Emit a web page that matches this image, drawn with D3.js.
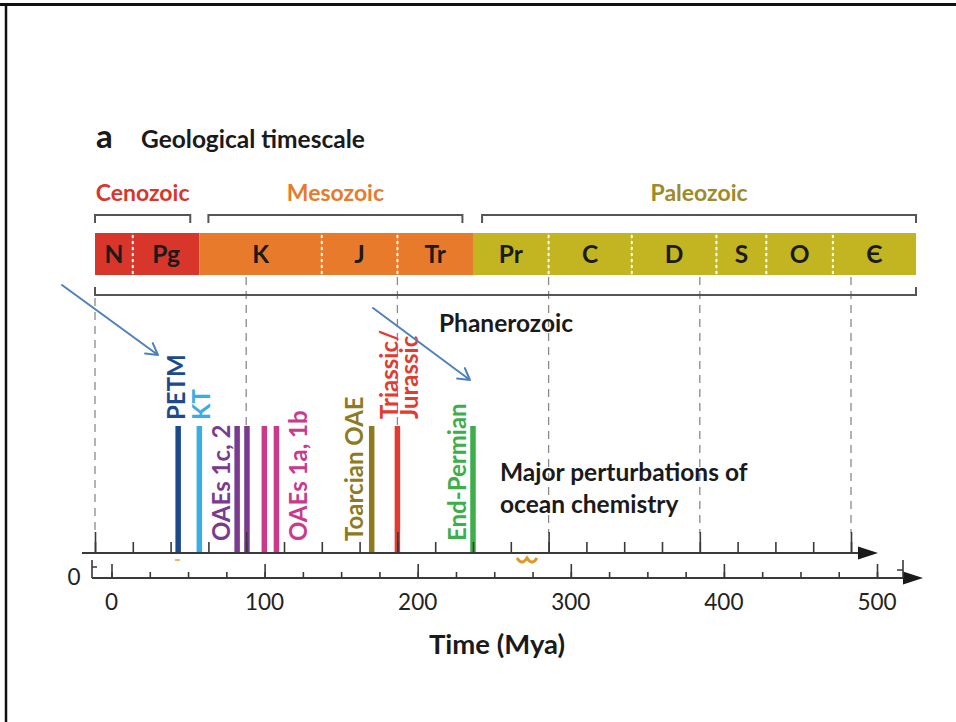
<!DOCTYPE html>
<html>
<head>
<meta charset="utf-8">
<script src="https://cdn.jsdelivr.net/npm/d3@7"></script>
<style>
  html, body { margin: 0; padding: 0; background: #fff; }
  svg { display: block; font-family: Lato, "Open Sans", sans-serif; }
</style>
</head>
<body>
<svg id="chart" width="956" height="722"></svg>
<script>
// Geological periods (Mya boundaries) and their eras
const periods      = ["N", "Pg", "K", "J", "Tr", "Pr", "C", "D", "S", "O", "Є"];
const periodStart  = [0, 25, 69, 150, 200, 250, 300, 355, 411, 444, 488];
const periodEnd    = [25, 69, 150, 200, 250, 300, 355, 411, 444, 488, 543];
const periodEra    = ["Cenozoic", "Cenozoic", "Mesozoic", "Mesozoic", "Mesozoic",
                      "Paleozoic", "Paleozoic", "Paleozoic", "Paleozoic", "Paleozoic", "Paleozoic"];

const eras         = ["Cenozoic", "Mesozoic", "Paleozoic"];
const eraSpanStart = [0, 75, 256];
const eraSpanEnd   = [63, 243, 543];
const eraColors    = ["#d8362b", "#e87a2c", "#c3b521"];
const eraTextColor = ["#d8362b", "#e87a2c", "#9d8a2a"];

// Major perturbations of ocean chemistry (ages in Mya)
const eventNames  = ["PETM", "KT", "OAEs 1c, 2", "OAEs 1a, 1b", "Toarcian OAE", "Triassic/|Jurassic", "End-Permian"];
const eventAges   = [[55], [69], [94, 100.5], [112, 120], [183], [200], [250]];
const eventColors = ["#1c4a8c", "#3aaee2", "#7a3b8f", "#c93a8d", "#8e7a1f", "#e23b30", "#3dae4a"];

// Tick values
const minorTicks = d3.range(0, 501, 25);
const majorTicks = d3.range(0, 501, 100);
const tickLabels = ["0", "100", "200", "300", "400", "500"];

const svg = d3.select("#chart");

// Figure frame
svg.append("line").attr("x1", 0).attr("x2", 956).attr("y1", 4.5).attr("y2", 4.5)
  .attr("stroke", "#111").attr("stroke-width", 3);
svg.append("line").attr("x1", 6).attr("x2", 6).attr("y1", 3).attr("y2", 722)
  .attr("stroke", "#111").attr("stroke-width", 2.5);

const xTop = d3.scaleLinear().domain([0, 500]).range([95, 851]);
const xLow = d3.scaleLinear().domain([0, 500]).range([111.5, 877]);

const barTop = 233, barBottom = 275;
const axisY = 553, lowAxisY = 578;

// Title
svg.append("text").attr("x", 96).attr("y", 148).attr("font-size", 33).attr("font-weight", 700)
  .attr("fill", "#1a1a1a").text("a");
svg.append("text").attr("x", 141).attr("y", 148).attr("font-size", 24.5).attr("font-weight", 700)
  .attr("fill", "#1a1a1a").text("Geological timescale");

// Era labels and brackets
const eraG = svg.append("g");
eras.forEach((e, i) => {
  const x0 = xTop(eraSpanStart[i]), x1 = xTop(eraSpanEnd[i]);
  eraG.append("text").attr("x", (x0 + x1) / 2).attr("y", 201)
    .attr("text-anchor", "middle").attr("font-size", 23).attr("font-weight", 700)
    .attr("fill", eraTextColor[i]).text(e);
  eraG.append("path")
    .attr("d", `M${x0},223 V215 H${x1} V223`)
    .attr("fill", "none").attr("stroke", "#555").attr("stroke-width", 2);
});

// Dashed guide lines at every 100 Mya
svg.append("g").selectAll("line").data(majorTicks).join("line")
  .attr("x1", d => xTop(d)).attr("x2", d => xTop(d))
  .attr("y1", d => d === 0 ? 298 : barBottom + 2).attr("y2", axisY - 20)
  .attr("stroke", "#8a8a8a").attr("stroke-width", 1.3).attr("stroke-dasharray", "8,6");

// Period bar
const bar = svg.append("g");
periods.forEach((p, i) => {
  const x0 = xTop(periodStart[i]), x1 = xTop(periodEnd[i]);
  bar.append("rect").attr("x", x0).attr("y", barTop).attr("width", x1 - x0).attr("height", barBottom - barTop)
    .attr("fill", eraColors[eras.indexOf(periodEra[i])]);
  bar.append("text").attr("x", (x0 + x1) / 2).attr("y", 263)
    .attr("text-anchor", "middle").attr("font-size", 24.5).attr("font-weight", 700)
    .attr("fill", "#1b1b1b").text(p);
  if (i > 0 && periodEra[i] === periodEra[i - 1]) {
    bar.append("line").attr("x1", x0).attr("x2", x0).attr("y1", barTop + 2).attr("y2", barBottom)
      .attr("stroke", "#fff").attr("stroke-width", 2).attr("stroke-dasharray", "3,3");
  }
});

// Phanerozoic bracket
svg.append("path")
  .attr("d", `M${xTop(0)},287 V295 H${xTop(543)} V287`)
  .attr("fill", "none").attr("stroke", "#555").attr("stroke-width", 2);
svg.append("text").attr("x", 506).attr("y", 332).attr("text-anchor", "middle")
  .attr("font-size", 24.5).attr("font-weight", 700).attr("fill", "#1a1a1a").text("Phanerozoic");

// Event bars
const eventTop = 426;
const evG = svg.append("g");
eventNames.forEach((name, i) => {
  eventAges[i].forEach(a => {
    evG.append("line").attr("x1", xTop(a)).attr("x2", xTop(a))
      .attr("y1", eventTop).attr("y2", axisY)
      .attr("stroke", eventColors[i]).attr("stroke-width", 5.5);
  });
});

// Event labels (rotated), offset from their bars
const labelLayout = [
  { dx: -2, bottom: 420 },
  { dx: 2.5, bottom: 420 },
  { dx: -16, bottom: 541 },
  { dx: 22, bottom: 541 },
  { dx: -17, bottom: 541 },
  { dx: -8, bottom: 419, line: 20 },
  { dx: -16, bottom: 541 }
];
eventNames.forEach((name, i) => {
  const L = labelLayout[i];
  const ages = eventAges[i];
  const xc = i === 3 ? xTop(ages[ages.length - 1]) : xTop(ages[0]);
  name.split("|").forEach((part, k) => {
    const x = xc + L.dx + k * (L.line || 0);
    svg.append("text")
      .attr("transform", `translate(${x},${L.bottom}) rotate(-90)`)
      .attr("dy", "0.36em")
      .attr("font-size", 24).attr("font-weight", 700)
      .attr("fill", eventColors[i]).text(part);
  });
});

// Caption
const cap = svg.append("text").attr("font-size", 24.5).attr("font-weight", 700).attr("fill", "#1a1a1a");
cap.append("tspan").attr("x", 500).attr("y", 481).text("Major perturbations of");
cap.append("tspan").attr("x", 500).attr("y", 513).text("ocean chemistry");

// Upper time axis
svg.append("line").attr("x1", 82).attr("x2", 866).attr("y1", axisY).attr("y2", axisY)
  .attr("stroke", "#3a3a3a").attr("stroke-width", 2);
svg.append("path").attr("d", `M858,${axisY - 6.5} L878,${axisY} L858,${axisY + 6.5} Z`).attr("fill", "#1a1a1a");
const upMinor = svg.append("g").attr("transform", `translate(0,${axisY})`)
  .call(d3.axisTop(xTop).tickValues(minorTicks).tickSize(11).tickFormat(""));
const upMajor = svg.append("g").attr("transform", `translate(0,${axisY})`)
  .call(d3.axisTop(xTop).tickValues(majorTicks).tickSize(21).tickFormat(""));
[upMinor, upMajor].forEach(g => {
  g.select(".domain").remove();
  g.selectAll(".tick line").attr("stroke", "#3a3a3a").attr("stroke-width", 1.6);
});

// Lower time axis
svg.append("line").attr("x1", 92).attr("x2", 910).attr("y1", lowAxisY).attr("y2", lowAxisY)
  .attr("stroke", "#3a3a3a").attr("stroke-width", 2);
svg.append("path").attr("d", `M903,${lowAxisY - 6.5} L923,${lowAxisY} L903,${lowAxisY + 6.5} Z`).attr("fill", "#1a1a1a");
svg.append("path").attr("d", `M92,${lowAxisY} V560 M92,567 H97 M903,${lowAxisY} V560 M903,570 H897`)
  .attr("fill", "none").attr("stroke", "#3a3a3a").attr("stroke-width", 1.6);
const lowMinor = svg.append("g").attr("transform", `translate(0,${lowAxisY})`)
  .call(d3.axisTop(xLow).tickValues(minorTicks).tickSize(6).tickFormat(""));
const lowMajor = svg.append("g").attr("transform", `translate(0,${lowAxisY})`)
  .call(d3.axisTop(xLow).tickValues(majorTicks).tickSize(14).tickFormat(""));
[lowMinor, lowMajor].forEach(g => {
  g.select(".domain").remove();
  g.selectAll(".tick line").attr("stroke", "#3a3a3a").attr("stroke-width", 1.6);
});
svg.append("g").selectAll("text").data(majorTicks).join("text")
  .attr("x", d => xLow(d)).attr("y", 610).attr("text-anchor", "middle")
  .attr("font-size", 22.5).attr("fill", "#222").text((d, i) => tickLabels[i]);
svg.append("text").attr("x", 74).attr("y", 585).attr("text-anchor", "middle")
  .attr("font-size", 22.5).attr("fill", "#222").text("0");

svg.append("text").attr("x", 497).attr("y", 654).attr("text-anchor", "middle")
  .attr("font-size", 27.5).attr("font-weight", 700).attr("fill", "#1a1a1a").text("Time (Mya)");

// Small orange marks below the upper axis
svg.append("line").attr("x1", 175).attr("x2", 180).attr("y1", 560).attr("y2", 560)
  .attr("stroke", "#e8a030").attr("stroke-width", 1.5);
svg.append("path").attr("d", "M517,558 q5,8 10,0 q5,8 10,0")
  .attr("fill", "none").attr("stroke", "#e0982a").attr("stroke-width", 3);

// Pointer arrows
const pointerArrows = [
  { from: [62, 285], to: [158, 355] },
  { from: [373, 308], to: [470, 380] }
];
pointerArrows.forEach(a => {
  const [x0, y0] = a.from, [x1, y1] = a.to;
  const ang = Math.atan2(y1 - y0, x1 - x0);
  const len = 13, spread = Math.PI / 6;
  const p1 = [x1 - len * Math.cos(ang - spread), y1 - len * Math.sin(ang - spread)];
  const p2 = [x1 - len * Math.cos(ang + spread), y1 - len * Math.sin(ang + spread)];
  svg.append("path")
    .attr("d", `M${x0},${y0} L${x1},${y1} M${p1[0]},${p1[1]} L${x1},${y1} L${p2[0]},${p2[1]}`)
    .attr("fill", "none").attr("stroke", "#4f81bd").attr("stroke-width", 2)
    .attr("stroke-linecap", "round").attr("stroke-linejoin", "round");
});
</script>
</body>
</html>
